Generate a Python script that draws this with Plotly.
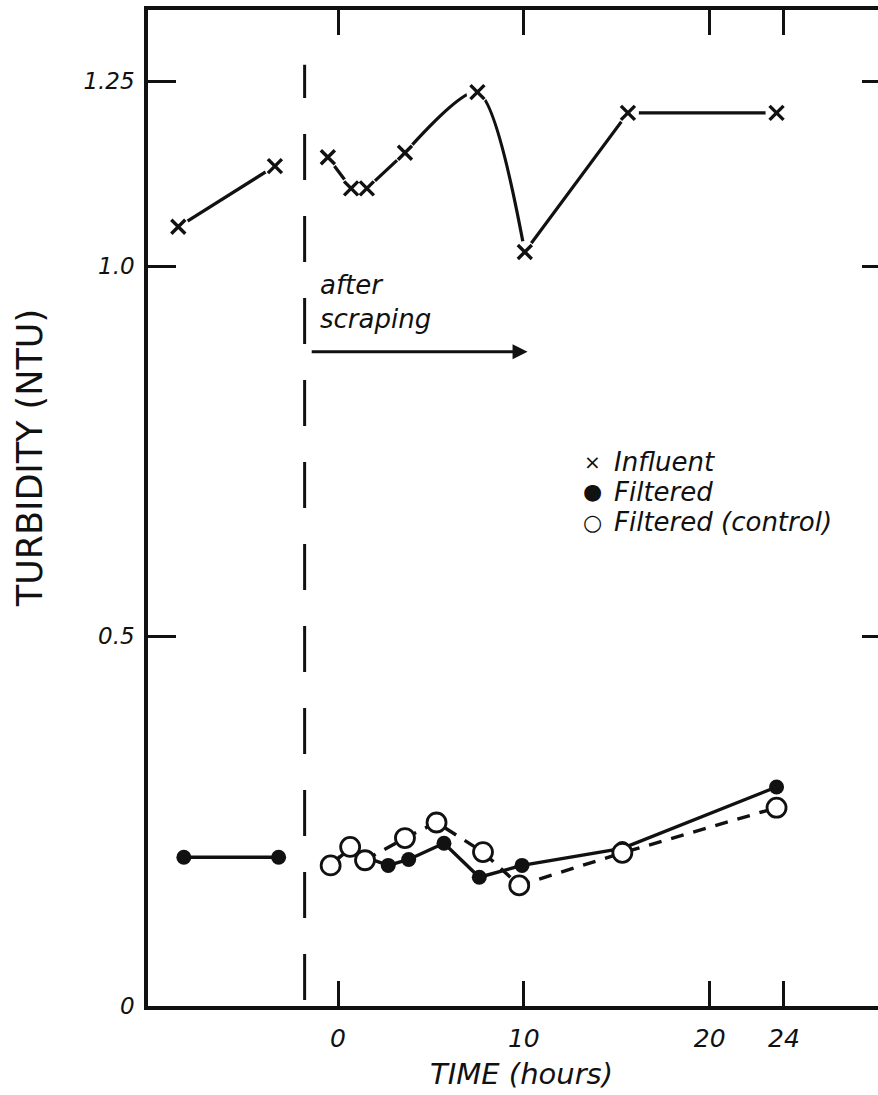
import plotly.graph_objects as go

# ---------------- data ----------------
# Influent turbidity (NTU)
influent_pre_t = [-8.6, -3.4]
influent_pre_v = [1.053, 1.135]
influent_post_t = [-0.55, 0.7, 1.55, 3.6, 7.5, 10.05, 15.6, 23.6]
influent_post_v = [1.147, 1.105, 1.105, 1.153, 1.235, 1.019, 1.207, 1.207]

# Filtered turbidity (NTU)
filtered_pre_t = [-8.3, -3.2]
filtered_pre_v = [0.201, 0.201]
filtered_post_t = [-0.35, 0.75, 1.6, 2.7, 3.8, 5.7, 7.6, 9.9, 15.3, 23.6]
filtered_post_v = [0.192, 0.215, 0.200, 0.190, 0.198, 0.220, 0.174, 0.190, 0.213, 0.296]

# Filtered (control) turbidity (NTU)
control_t = [-0.4, 0.65, 1.45, 3.6, 5.3, 7.8, 9.75, 15.3, 23.6]
control_v = [0.190, 0.215, 0.197, 0.227, 0.248, 0.208, 0.163, 0.207, 0.268]

# scraping event / annotation
scrape_time = -1.8
arrow_start, arrow_end, arrow_level = -1.5, 10.2, 0.884

x_tickvals = [0, 10, 20, 24]
x_ticktext = ["0", "10", "20", "24"]
y_tickvals = [0, 0.5, 1.0, 1.25]
y_ticktext = ["0", "0.5", "1.0", "1.25"]

legend_labels = ["Influent", "Filtered", "Filtered (control)"]
legend_symbols = ["×", "●", "○"]

# ---------------- figure ----------------
INK = "#111111"
FONT = "DejaVu Sans"

fig = go.Figure()

# Influent line pieces: straight segments, with a curved drop after the peak
pieces = [
    (influent_pre_t, influent_pre_v, "linear"),
    (influent_post_t[0:4], influent_post_v[0:4], "linear"),
    (influent_post_t[3:6], influent_post_v[3:6], "spline"),
    (influent_post_t[5:], influent_post_v[5:], "linear"),
]
for t, v, shp in pieces:
    fig.add_trace(go.Scatter(x=t, y=v, mode="lines",
                             line=dict(color=INK, width=3.2, shape=shp, smoothing=0.75),
                             hoverinfo="skip", showlegend=False))

for t, v in ((influent_pre_t, influent_pre_v), (influent_post_t, influent_post_v)):
    # white masks leave small gaps between line and markers
    fig.add_trace(go.Scatter(x=t, y=v, mode="markers",
                             marker=dict(symbol="circle", size=22, color="white"),
                             hoverinfo="skip", showlegend=False))
    fig.add_trace(go.Scatter(x=t, y=v, mode="markers", name="Influent",
                             marker=dict(symbol="x-thin", size=14,
                                         line=dict(color=INK, width=3.4)),
                             showlegend=False))

# Filtered (solid line, filled circles)
for t, v in ((filtered_pre_t, filtered_pre_v), (filtered_post_t, filtered_post_v)):
    fig.add_trace(go.Scatter(x=t, y=v, mode="lines+markers", name="Filtered",
                             line=dict(color=INK, width=3.4),
                             marker=dict(symbol="circle", size=15, color=INK),
                             showlegend=False))

# Filtered control (dashed line, open circles)
fig.add_trace(go.Scatter(x=control_t, y=control_v, mode="lines+markers",
                         name="Filtered (control)",
                         line=dict(color=INK, width=3.4, dash="13px,10px"),
                         marker=dict(symbol="circle", size=19, color="white",
                                     line=dict(color=INK, width=2.8)),
                         showlegend=False))

# invisible trace to hold right-side tick axis
fig.add_trace(go.Scatter(x=[None], y=[None], yaxis="y2", mode="markers",
                         showlegend=False, hoverinfo="skip"))

# dashed vertical line at scraping time
fig.add_shape(type="line", xref="x", yref="y", x0=scrape_time, x1=scrape_time,
              y0=0.008, y1=1.272, line=dict(color=INK, width=3, dash="46px,36px"))

# "after scraping" label + arrow
fig.add_annotation(x=-1.1, y=0.952, xref="x", yref="y", text="after<br>scraping",
                   showarrow=False, xanchor="left", yanchor="middle", align="left",
                   font=dict(family=FONT, size=26, color=INK, style="italic"))
fig.add_annotation(x=arrow_end, y=arrow_level, ax=arrow_start, ay=arrow_level,
                   xref="x", yref="y", axref="x", ayref="y", text="",
                   showarrow=True, arrowhead=2, arrowsize=1.0, arrowwidth=3,
                   arrowcolor=INK)

# legend (symbols + labels)
legend_y = [0.735, 0.695, 0.654]
sym_sizes = [20, 22, 22]
for lab, sym, yy, ss in zip(legend_labels, legend_symbols, legend_y, sym_sizes):
    fig.add_annotation(x=13.7, y=yy, xref="x", yref="y", text=sym, showarrow=False,
                       xanchor="center", yanchor="middle",
                       font=dict(family=FONT, size=ss, color=INK))
    fig.add_annotation(x=14.75, y=yy, xref="x", yref="y", text=lab, showarrow=False,
                       xanchor="left", yanchor="middle",
                       font=dict(family=FONT, size=26, color=INK, style="italic"))

# axis titles
fig.add_annotation(x=-0.1616, y=0.55, xref="paper", yref="paper",
                   xanchor="center", yanchor="middle",
                   text="TURBIDITY (NTU)", textangle=-90, showarrow=False,
                   font=dict(family=FONT, size=35, color=INK))
fig.add_annotation(x=0.512, y=-0.0685, xref="paper", yref="paper",
                   xanchor="center", yanchor="middle",
                   text="TIME (hours)", showarrow=False,
                   font=dict(family=FONT, size=29, color=INK, style="italic"))

fig.update_layout(
    width=878, height=1095,
    margin=dict(l=148, r=0, t=10, b=89),
    paper_bgcolor="white", plot_bgcolor="white",
    showlegend=False,
    xaxis=dict(range=[-10.23, 29.06], tickvals=x_tickvals, ticktext=x_ticktext,
               ticks="inside", ticklen=25, tickwidth=3, tickcolor=INK,
               showline=True, linewidth=3.5, linecolor=INK, mirror="ticks",
               showgrid=False, zeroline=False, ticklabelstandoff=7,
               tickfont=dict(family=FONT, size=25, color=INK, style="italic")),
    yaxis=dict(range=[0, 1.346], tickvals=y_tickvals, ticktext=y_ticktext,
               ticks="inside", ticklen=28, tickwidth=3, tickcolor=INK,
               showline=True, linewidth=3.5, linecolor=INK, mirror=False,
               showgrid=False, zeroline=False, ticklabelstandoff=5,
               tickfont=dict(family=FONT, size=23, color=INK, style="italic")),
    yaxis2=dict(range=[0, 1.346], overlaying="y", side="right",
                tickvals=[0.5, 1.0, 1.25], ticks="inside", ticklen=16, tickwidth=3,
                tickcolor=INK, showticklabels=False, showline=False,
                showgrid=False, zeroline=False),
)

fig.write_html("out.html")
